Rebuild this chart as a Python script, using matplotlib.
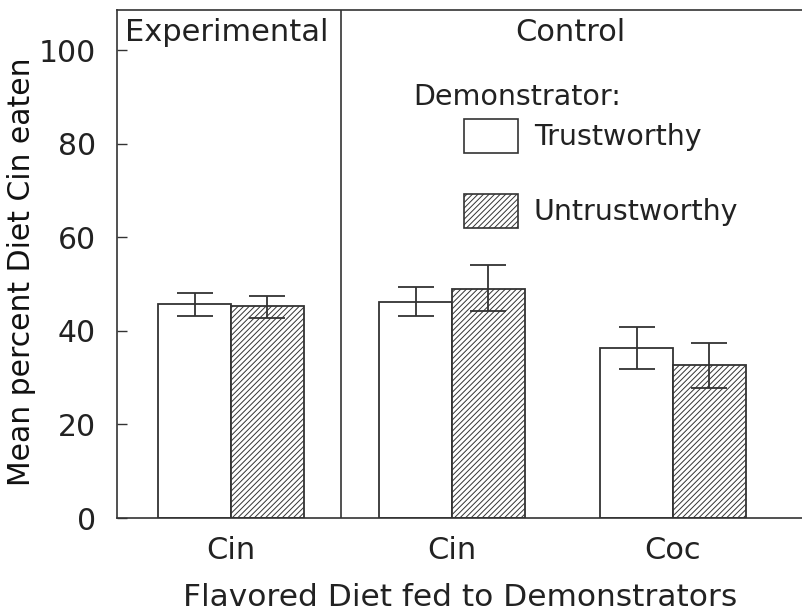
import matplotlib
matplotlib.use("Agg")
import matplotlib.pyplot as plt
import numpy as np
from matplotlib.patches import Patch

plt.rcParams['font.family'] = ['DejaVu Sans']
plt.rcParams['hatch.linewidth'] = 0.7
plt.rcParams['hatch.color'] = '#555555'

categories = ["Cin", "Cin", "Coc"]
series_names = ["Trustworthy", "Untrustworthy"]
trust_vals = [45.7, 46.2, 36.4]
trust_err_hi = [48.1, 49.4, 40.9]
trust_err_lo = [43.2, 43.2, 31.8]
untrust_vals = [45.3, 49.0, 32.7]
untrust_err_hi = [47.4, 54.1, 37.5]
untrust_err_lo = [42.7, 44.2, 27.8]
yticks = [0, 20, 40, 60, 80, 100]

fig = plt.figure(figsize=(8.03, 6.11), dpi=100)
ax = fig.add_axes([117/803, 1-518/611, 1-117/803, (518-10)/611])

x = np.arange(len(categories))
w = 0.33
ec = '#333333'
tc = '#222222'
b1 = ax.bar(x - w/2, trust_vals, w, color='white', edgecolor=ec, linewidth=1.3)
b2 = ax.bar(x + w/2, untrust_vals, w, color='white', edgecolor=ec, linewidth=1.3, hatch='//////')

def errs(vals, hi, lo):
    v = np.array(vals); return np.vstack([v - np.array(lo), np.array(hi) - v])

ax.errorbar(x - w/2, trust_vals, yerr=errs(trust_vals, trust_err_hi, trust_err_lo),
            fmt='none', ecolor=ec, elinewidth=1.3, capsize=13.3, capthick=1.3)
ax.errorbar(x + w/2, untrust_vals, yerr=errs(untrust_vals, untrust_err_hi, untrust_err_lo),
            fmt='none', ecolor=ec, elinewidth=1.3, capsize=13.3, capthick=1.3)

ax.set_xlim((117-231)/221, (803-231)/221)
ax.set_ylim(0, (518-10)/4.68)
ax.set_yticks(yticks)
ax.set_yticklabels([str(t) for t in yticks], fontsize=21.5, color=tc)
ax.set_xticks(x)
ax.set_xticklabels(categories, fontsize=22, color=tc)
ax.tick_params(axis='y', direction='in', length=7, width=1, color=ec, pad=15)
ax.tick_params(axis='x', length=0, pad=13)
ax.spines['right'].set_visible(False)
for s in ['left', 'top', 'bottom']:
    ax.spines[s].set_color(ec)
    ax.spines[s].set_linewidth(1.2)

ax.axvline(0.5, color=ec, linewidth=1.2)

ax.set_ylabel("Mean percent Diet Cin eaten", fontsize=21.5, color='#111111')
ax.yaxis.set_label_coords((36-117)/686, (518-272)/508)
ax.set_xlabel("Flavored Diet fed to Demonstrators", fontsize=22.5, labelpad=13, color=tc)

ax.text(-0.48, 103.8, "Experimental", fontsize=22, ha='left', va='center', color=tc)
ax.text(1.534, 103.8, "Control", fontsize=22, ha='center', va='center', color=tc)
ax.text((413-231)/221, (518-97)/4.68, "Demonstrator:", fontsize=20.5, ha='left', va='center', color=tc)

handles = [Patch(facecolor='white', edgecolor=ec, linewidth=1.2),
           Patch(facecolor='white', edgecolor=ec, linewidth=1.2, hatch='//////')]
leg = ax.legend(handles, series_names, loc='upper left',
                bbox_to_anchor=((464-117)/686, (518-119)/(508)),
                frameon=False, fontsize=20.5, handlelength=1.9, handleheight=1.45,
                labelspacing=1.45, handletextpad=0.55, borderaxespad=0, borderpad=0)
for t in leg.get_texts():
    t.set_color(tc)

fig.savefig("out.png", dpi=100)
